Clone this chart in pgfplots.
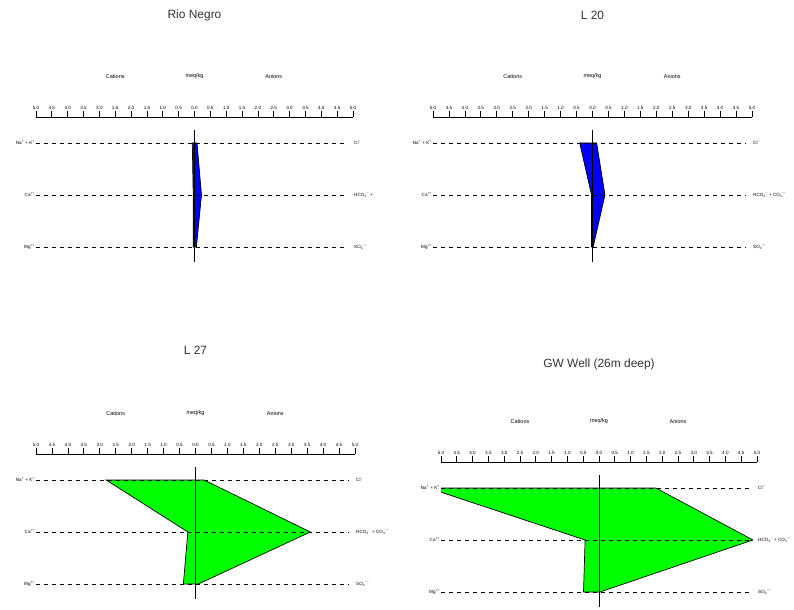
\documentclass[border=0pt]{standalone}
\usepackage{pgfplots}
\pgfplotsset{compat=1.18}
\usepackage{fontspec}
\setmainfont{Liberation Sans}

% small type for scale, ion and header labels
\newcommand{\lbl}{\fontsize{4.6}{5}\selectfont}
\newcommand{\hdr}{\fontsize{5.5}{6}\selectfont}
\newcommand{\sm}{\char"2212}
% ion with subscript followed by its charge
\newcommand{\ion}[3]{#1\textsubscript{#2}\kern-0.1bp\textsuperscript{#3}}
\newcommand{\NaK}{Na\textsuperscript{+} + K\textsuperscript{+}}
\newcommand{\CaI}{Ca\textsuperscript{++}}
\newcommand{\MgI}{Mg\textsuperscript{++}}
\newcommand{\ClI}{Cl\textsuperscript{\sm}}
\newcommand{\SOI}{\ion{SO}{4}{\sm\sm}}
\newcommand{\HCOI}{\ion{HCO}{3}{\sm}}
\newcommand{\COI}{\ion{CO}{3}{\sm\sm}}

\pgfplotsset{
  stiff/.style={
    scale only axis, height=145.6bp,
    xmin=-5, xmax=5, ymin=-0.3, ymax=2.5,
    axis x line*=top, axis y line=none,
    x axis line style={-, line width=0.8pt},
    xtick={-5,-4.5,-4,-3.5,-3,-2.5,-2,-1.5,-1,-0.5,0,0.5,1,1.5,2,2.5,3,3.5,4,4.5,5},
    xticklabels={5.0,4.5,4.0,3.5,3.0,2.5,2.0,1.5,1.0,0.5,0.0,0.5,1.0,1.5,2.0,2.5,3.0,3.5,4.0,4.5,5.0},
    tick align=outside, major tick length=6bp,
    xtick style={line width=0.8pt, black},
    xticklabel style={font=\lbl, inner sep=1.5bp},
    clip mode=individual,
    anchor=south west,
  },
  ionrow/.style={dash pattern=on 4bp off 4bp, line width=0.8pt, black},
  cationfill/.style={draw=black, line width=0.7pt},
}

% dashed rows, zero line, ion names, headers and title
\newcommand{\stiffframe}[3]{%
  \addplot[ionrow] coordinates {(-5,2) (4.8,2)};
  \addplot[ionrow] coordinates {(-5,1) (4.8,1)};
  \addplot[ionrow] coordinates {(-5,0) (4.8,0)};
  \addplot[line width=0.9pt, black] coordinates {(0,2.25) (0,-0.28)};
  \node[font=\lbl, anchor=east, inner sep=1bp] at (axis cs:-5,2) {\NaK};
  \node[font=\lbl, anchor=east, inner sep=1bp] at (axis cs:-5,1) {\CaI};
  \node[font=\lbl, anchor=east, inner sep=1bp] at (axis cs:-5,0) {\MgI};
  \node[font=\lbl, anchor=west, inner sep=1bp] at (axis cs:5,2) {\ClI};
  \node[font=\lbl, anchor=west, inner sep=1bp] at (axis cs:5,1) {#2};
  \node[font=\lbl, anchor=west, inner sep=1bp] at (axis cs:5,0) {\SOI};
  \node[font=\hdr] at (axis cs:-2.5,3.28) {Cations};
  \node[font=\hdr] at (axis cs:0,3.28) {meq/kg};
  \node[font=\hdr] at (axis cs:2.5,3.28) {Anions};
  \node[font=\fontsize{12}{14}\selectfont, text=black!80] at (axis cs:0,#3) {#1};
}

\begin{document}
\begin{tikzpicture}
\path[use as bounding box] (0,0) rectangle (794bp,610bp);

% Rio Negro
\begin{axis}[stiff, width=317bp, at={(36bp,347.4bp)}]
  \addplot[cationfill, fill=blue] coordinates
    {(-0.07,2) (-0.04,1) (-0.04,0) (0.06,0) (0.22,1) (0.08,2)} -- cycle;
  \stiffframe{Rio Negro}{\HCOI\ +}{4.46}
\end{axis}

% L 20
\begin{axis}[stiff, width=319bp, at={(433bp,347.4bp)}]
  \addplot[cationfill, fill=blue] coordinates
    {(-0.40,2) (-0.03,1) (-0.03,0) (0.02,0) (0.39,1) (0.13,2)} -- cycle;
  \stiffframe{L 20}{\HCOI\ + \COI}{4.46}
\end{axis}

% L 27
\begin{axis}[stiff, width=319bp, at={(36bp,10.4bp)}]
  \addplot[cationfill, fill=green] coordinates
    {(-2.80,2) (-0.24,1) (-0.38,0) (0.09,0) (3.60,1) (0.27,2)} -- cycle;
  \stiffframe{L 27}{\HCOI\ + \COI}{4.50}
\end{axis}

% GW Well (26m deep)
\begin{axis}[stiff, width=316bp, at={(441bp,2.4bp)}]
  \addplot[cationfill, fill=green] coordinates
    {(-5.40,2) (-0.44,1) (-0.49,0) (0.03,0) (4.87,1) (1.80,2)} -- cycle;
  \stiffframe{GW Well (26m deep)}{\HCOI\ + \COI}{4.37}
\end{axis}
\end{tikzpicture}
\end{document}
